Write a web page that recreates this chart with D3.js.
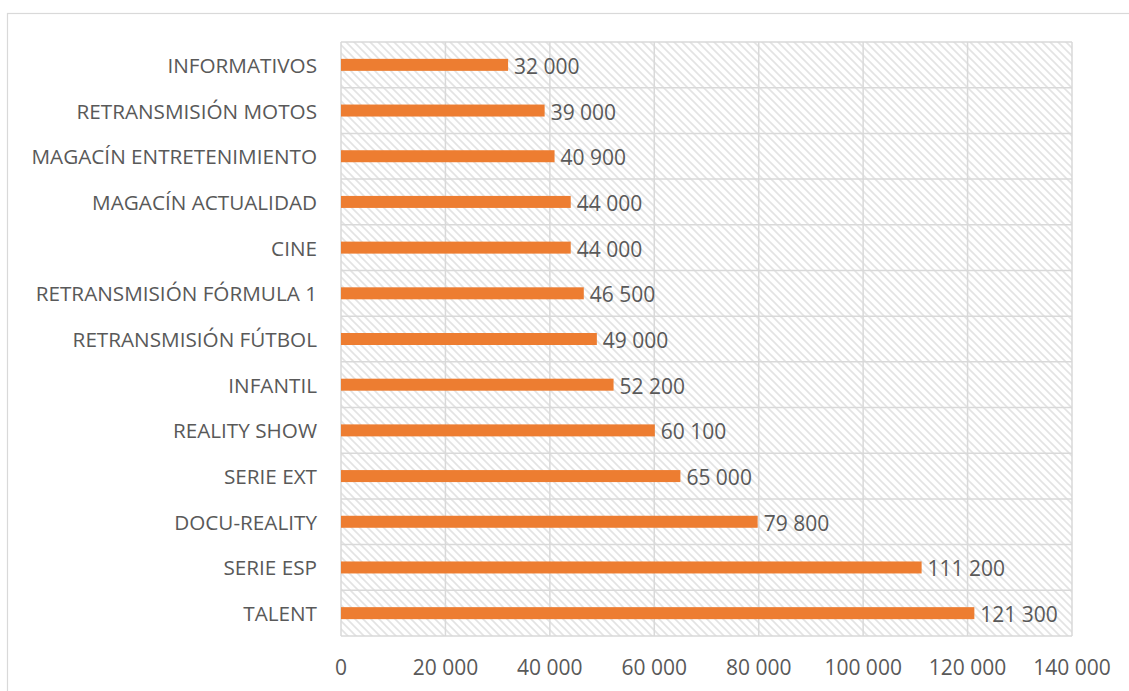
<!DOCTYPE html>
<html>
<head>
<meta charset="utf-8">
<script src="https://cdn.jsdelivr.net/npm/d3@7"></script>
<style>
  body { margin: 0; background: #fff; }
  svg text { font-family: "Open Sans", Lato, sans-serif; fill: #595959; }
</style>
</head>
<body>
<svg id="chart" width="1129" height="691"></svg>
<script>
// categories top to bottom, as in the picture
var categories = [
    "INFORMATIVOS",
    "RETRANSMISIÓN MOTOS",
    "MAGACÍN ENTRETENIMIENTO",
    "MAGACÍN ACTUALIDAD",
    "CINE",
    "RETRANSMISIÓN FÓRMULA 1",
    "RETRANSMISIÓN FÚTBOL",
    "INFANTIL",
    "REALITY SHOW",
    "SERIE EXT",
    "DOCU-REALITY",
    "SERIE ESP",
    "TALENT"
];
var values = [32000, 39000, 40900, 44000, 44000, 46500, 49000, 52200, 60100, 65000, 79800, 111200, 121300];
var xTicks = [0, 20000, 40000, 60000, 80000, 100000, 120000, 140000];

var svg = d3.select("#chart"),
    width = +svg.attr("width"),
    height = +svg.attr("height");

var margin = {left: 341, right: 57, top: 42, bottom: 55};

// outer chart border
svg.append("rect")
    .attr("x", 7.5).attr("y", 13.5)
    .attr("width", width).attr("height", height)
    .attr("fill", "none")
    .attr("stroke", "#d9d9d9")
    .attr("stroke-width", 1.2);

// diagonal hatch for the plot area
var defs = svg.append("defs");
var pat = defs.append("pattern")
    .attr("id", "hatch")
    .attr("patternUnits", "userSpaceOnUse")
    .attr("width", 8).attr("height", 8);
pat.append("rect").attr("width", 8).attr("height", 8).attr("fill", "#fff");
pat.append("path")
    .attr("d", "M-2,-2 L10,10 M-2,6 L2,10 M6,-2 L10,2")
    .attr("stroke", "#e3e3e3")
    .attr("stroke-width", 1.6);

var x = d3.scaleLinear()
    .domain([0, 140000])
    .range([margin.left, width - margin.right]);

var y = d3.scaleBand()
    .domain(categories)
    .range([margin.top, height - margin.bottom]);

svg.append("rect")
    .attr("x", x(0)).attr("y", y.range()[0])
    .attr("width", x(140000) - x(0))
    .attr("height", y.range()[1] - y.range()[0])
    .attr("fill", "url(#hatch)");

// vertical gridlines
svg.append("g").selectAll("line")
    .data(xTicks)
    .enter().append("line")
    .attr("x1", function(d) { return x(d); })
    .attr("x2", function(d) { return x(d); })
    .attr("y1", y.range()[0])
    .attr("y2", y.range()[1])
    .attr("stroke", "#d9d9d9")
    .attr("stroke-width", 1.5);

// horizontal lines between categories
var bounds = categories.map(function(c) { return y(c); }).concat([y.range()[1]]);
svg.append("g").selectAll("line")
    .data(bounds)
    .enter().append("line")
    .attr("x1", x(0))
    .attr("x2", x(140000))
    .attr("y1", function(d) { return d; })
    .attr("y2", function(d) { return d; })
    .attr("stroke", "#d9d9d9")
    .attr("stroke-width", 1.5);

var fmt = function(v) { return d3.format(",")(v).replace(/,/g, " "); };

var barH = 12;
svg.append("g").selectAll("rect")
    .data(values)
    .enter().append("rect")
    .attr("x", x(0))
    .attr("y", function(d, i) { return y(categories[i]) + y.bandwidth() / 2 - barH / 2; })
    .attr("width", function(d) { return x(d) - x(0); })
    .attr("height", barH)
    .attr("fill", "#ed7d31");

// value labels
svg.append("g").selectAll("text")
    .data(values)
    .enter().append("text")
    .attr("x", function(d) { return x(d) + 6; })
    .attr("y", function(d, i) { return y(categories[i]) + y.bandwidth() / 2 + 9; })
    .attr("font-size", 21)
    .text(fmt);

// category axis labels
svg.append("g").selectAll("text")
    .data(categories)
    .enter().append("text")
    .attr("x", margin.left - 24)
    .attr("y", function(d) { return y(d) + y.bandwidth() / 2 + 8; })
    .attr("text-anchor", "end")
    .attr("font-size", 20.7)
    .text(function(d) { return d; });

// x tick labels
svg.append("g").selectAll("text")
    .data(xTicks)
    .enter().append("text")
    .attr("x", function(d) { return x(d); })
    .attr("y", 675)
    .attr("text-anchor", "middle")
    .attr("font-size", 21)
    .text(fmt);
</script>
</body>
</html>
